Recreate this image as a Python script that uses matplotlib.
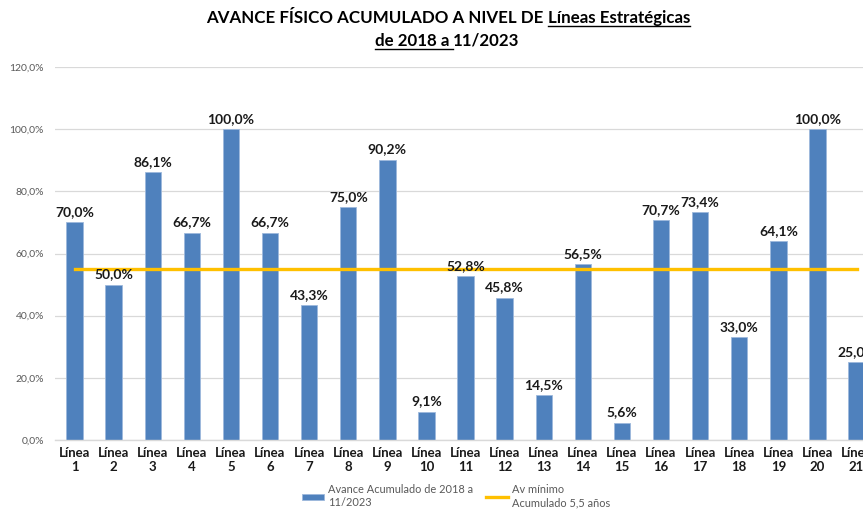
import matplotlib.pyplot as plt
from matplotlib.lines import Line2D

plt.rcParams['font.family'] = ['Lato', 'DejaVu Sans']

categories = [f"Línea\n{i}" for i in range(1, 22)]
avance = [70.0, 50.0, 86.1, 66.7, 100.0, 66.7, 43.3, 75.0, 90.2, 9.1,
          52.8, 45.8, 14.5, 56.5, 5.6, 70.7, 73.4, 33.0, 64.1, 100.0, 25.0]
minimo = [55.0] * 21
yticks = [0, 20, 40, 60, 80, 100, 120]

BLUE = '#4F81BD'
GOLD = '#FFC000'
GREY = '#595959'

W, H = 863, 518
fig = plt.figure(figsize=(W / 100, H / 100), dpi=100)
# axes runs past the right edge, like the cropped original
ax = fig.add_axes([55 / W, 78 / H, 21 * 39.1 / W, 373 / H])

x = list(range(len(categories)))
bars = ax.bar(x, avance, width=0.42, color=BLUE, edgecolor='#9DB9DC',
              linewidth=0.6, label='Avance Acumulado de 2018 a\n11/2023', zorder=2)
line, = ax.plot(x, minimo, color=GOLD, lw=2.4,
                label='Av mínimo\nAcumulado 5,5 años', zorder=3)

for xi, v in zip(x, avance):
    ax.annotate(f"{v:.1f}%".replace('.', ','), (xi, v), xytext=(0, 3),
                textcoords='offset points', ha='center', va='bottom',
                fontsize=10, fontweight='bold', color='#1a1a1a', zorder=4)

ax.set_xlim(-0.5, len(categories) - 0.5)
ax.set_ylim(0, 120)
ax.set_yticks(yticks)
ax.set_yticklabels([f"{t:.1f}%".replace('.', ',') for t in yticks],
                   fontsize=7.5, color=GREY)
ax.set_xticks(x)
ax.set_xticklabels(categories, fontsize=9.5, fontweight='bold', color='#1a1a1a',
                   linespacing=1.2)
ax.tick_params(axis='both', length=0)
ax.tick_params(axis='y', pad=8)
ax.tick_params(axis='x', pad=5)
ax.grid(axis='y', color='#D9D9D9', lw=0.9, zorder=0)
for s in ['top', 'right', 'left']:
    ax.spines[s].set_visible(False)
ax.spines['bottom'].set_color('#D9D9D9')
ax.spines['bottom'].set_linewidth(1.0)

leg = fig.legend([bars, line], [bars.get_label(), line.get_label()],
                 loc='lower left', bbox_to_anchor=(292 / W, 0), ncol=2,
                 frameon=False, fontsize=7.9, handlelength=2.0,
                 handleheight=0.5, columnspacing=1.2, handletextpad=0.35)
for t in leg.get_texts():
    t.set_color(GREY)

# title with underlined parts
renderer = fig.canvas.get_renderer()
tprops = dict(fontsize=12.2, fontweight='bold', color='black',
              transform=None, va='baseline', ha='left')


def title_line(pieces, cx, base_y):
    widths = []
    for txt, _ in pieces:
        t = fig.text(0, 0, txt, **tprops)
        widths.append(t.get_window_extent(renderer).width)
        t.remove()
    total = sum(widths)
    x0 = cx - total / 2
    for (txt, ul), w in zip(pieces, widths):
        fig.text(x0, base_y, txt, **tprops)
        if ul:
            fig.add_artist(Line2D([x0, x0 + w], [base_y - 3, base_y - 3],
                                  color='black', lw=1.0, transform=None))
        x0 += w


title_line([("AVANCE FÍSICO ACUMULADO A NIVEL DE ", False),
            ("Líneas Estratégicas", True)], 448, H - 23)
title_line([("de 2018 a ", True), ("11/2023", False)], 447, H - 46)

fig.savefig('out.png', dpi=100)
